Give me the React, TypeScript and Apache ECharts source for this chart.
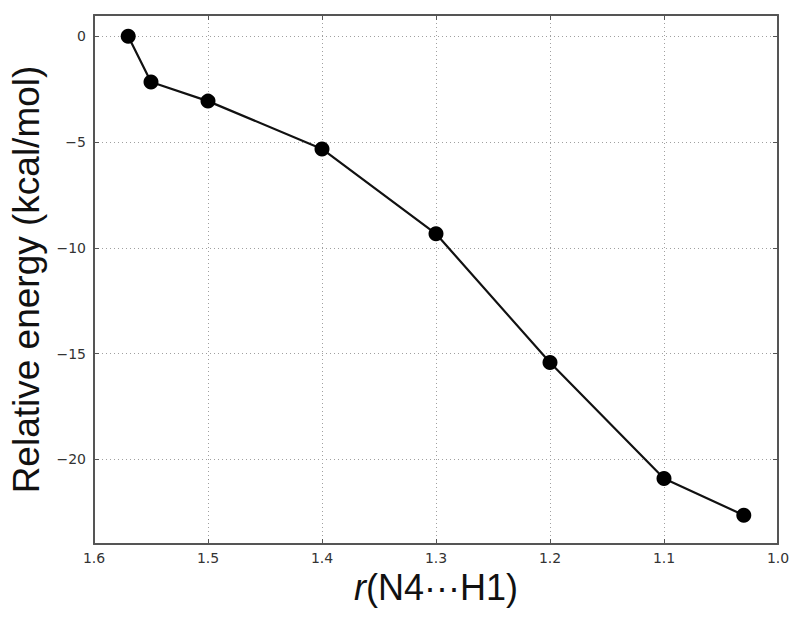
import React, { useEffect, useRef } from "react";
import * as echarts from "echarts";

const distances = [1.57, 1.55, 1.5, 1.4, 1.3, 1.2, 1.1, 1.03];
const energies = [0.0, -2.17, -3.07, -5.33, -9.34, -15.42, -20.9, -22.64];
const yTicks = [-20, -15, -10, -5, 0];
const xTicks = [1.0, 1.1, 1.2, 1.3, 1.4, 1.5, 1.6];

const AXIS_COLOR = "#555";
const LABEL_COLOR = "#333";
const GRID_COLOR = "#a0a0a0";

export default function App() {
  const ref = useRef<HTMLDivElement>(null);
  useEffect(() => {
    if (!ref.current) return;
    const chart = echarts.init(ref.current, null, { renderer: "svg" });
    const fmtY = (v: number) => (v < 0 ? "\u2212" + Math.abs(v) : String(v));
    const baseX = {
      type: "value" as const,
      min: 1.0,
      max: 1.6,
      inverse: true,
      axisLine: { show: true, onZero: false, lineStyle: { color: AXIS_COLOR, width: 2 } },
      axisTick: { show: true, inside: true, length: 5, customValues: xTicks, lineStyle: { color: AXIS_COLOR, width: 1 } },
    };
    const baseY = {
      type: "value" as const,
      min: -24,
      max: 1,
      axisLine: { show: true, onZero: false, lineStyle: { color: AXIS_COLOR, width: 2 } },
      axisTick: { show: true, inside: true, length: 5, customValues: yTicks, lineStyle: { color: AXIS_COLOR, width: 1 } },
    };
    chart.setOption({
      animation: false,
      backgroundColor: "#fff",
      grid: { left: 93, right: 22, top: 15, bottom: 76, containLabel: false },
      xAxis: [
        {
          ...baseX,
          position: "bottom",
          axisLabel: {
            customValues: xTicks,
            formatter: (v: number) => v.toFixed(1),
            color: LABEL_COLOR,
            fontFamily: "DejaVu Sans",
            fontSize: 14,
            margin: 7,
          },
          splitLine: { show: true, lineStyle: { color: GRID_COLOR, type: [1, 3], width: 1 } },
          name: "{i|r}(N4\u00B7\u00B7\u00B7H1)",
          nameLocation: "middle",
          nameGap: 24,
          nameTextStyle: {
            fontFamily: "Liberation Sans",
            fontSize: 36,
            color: "#111",
            rich: {
              i: { fontStyle: "italic", fontFamily: "Liberation Sans", fontSize: 36, color: "#111" },
            },
          },
        },
        {
          ...baseX,
          position: "top",
          axisLabel: { show: false },
          splitLine: { show: false },
        },
      ],
      yAxis: [
        {
          ...baseY,
          position: "left",
          axisLabel: {
            customValues: yTicks,
            formatter: fmtY,
            color: LABEL_COLOR,
            fontFamily: "DejaVu Sans",
            fontSize: 14,
            margin: 8,
          },
          splitLine: { show: true, lineStyle: { color: GRID_COLOR, type: [1, 3], width: 1 } },
          name: "Relative energy (kcal/mol)",
          nameLocation: "middle",
          nameGap: 49,
          nameTextStyle: { fontFamily: "Liberation Sans", fontSize: 37, color: "#111" },
        },
        {
          ...baseY,
          position: "right",
          axisLabel: { show: false },
          splitLine: { show: false },
        },
      ],
      series: [
        {
          type: "line",
          xAxisIndex: 0,
          yAxisIndex: 0,
          data: distances.map((d, i) => [d, energies[i]]),
          symbol: "circle",
          symbolSize: 15,
          itemStyle: { color: "#000" },
          lineStyle: { color: "#111", width: 2.2 },
          z: 5,
        },
      ],
    });
    return () => chart.dispose();
  }, []);
  return (
    <div
      ref={ref}
      style={{ position: "absolute", left: 0, top: 0, width: 800, height: 620 }}
    />
  );
}
